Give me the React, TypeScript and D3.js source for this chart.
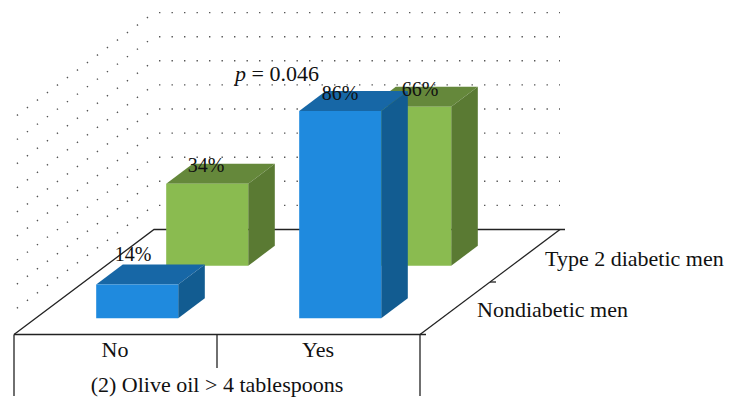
import React from "react";
import * as d3 from "d3";

const WIDTH = 738;
const HEIGHT = 411;

const categories = ["No", "Yes"];
const seriesNames = ["Nondiabetic men", "Type 2 diabetic men"];
const nondiabetic = [14, 86];
const diabetic = [34, 66];
const gridTicks = [10, 20, 30, 40, 50, 60, 70, 80, 90];

const COLORS: Record<string, { front: string; top: string; side: string }> = {
  "Nondiabetic men": { front: "#1f8ade", top: "#1767a6", side: "#125c91" },
  "Type 2 diabetic men": { front: "#8abb50", top: "#65883b", side: "#5a7a33" },
};

const FONT = "'Liberation Serif', serif";
const AXIS = "#222";

// front edge of the floor runs along x, depth goes up and to the right
const xScale = d3
  .scaleBand<string>()
  .domain(categories)
  .range([14, 420])
  .paddingInner(0.596)
  .paddingOuter(0.298);
const depthScale = d3
  .scaleBand<string>()
  .domain(seriesNames)
  .range([0, 105])
  .paddingInner(0.62)
  .paddingOuter(0.31);
const yScale = d3.scaleLinear().domain([0, 100]).range([0, 241]);

const FLOOR_Y = 334.5;
const SLANT = 140 / 105;

// x along the front, d = depth in px, v = value
const project = (x: number, d: number, v: number): [number, number] => [
  x + d * SLANT,
  FLOOR_Y - d - yScale(v),
];

const line = d3.line();
const poly = (pts: [number, number][]) => line(pts) + "Z";

const Bar = ({ cat, series, value }: { cat: string; series: string; value: number }) => {
  const x0 = xScale(cat) as number;
  const x1 = x0 + xScale.bandwidth();
  const d0 = depthScale(series) as number;
  const d1 = d0 + depthScale.bandwidth();
  const c = COLORS[series];
  return (
    <g>
      <path
        d={poly([project(x0, d0, value), project(x1, d0, value), project(x1, d1, value), project(x0, d1, value)])}
        fill={c.top}
      />
      <path
        d={poly([project(x1, d0, 0), project(x1, d1, 0), project(x1, d1, value), project(x1, d0, value)])}
        fill={c.side}
      />
      <path
        d={poly([project(x0, d0, 0), project(x1, d0, 0), project(x1, d0, value), project(x0, d0, value)])}
        fill={c.front}
      />
    </g>
  );
};

const Label = ({ x, y, children, anchor = "middle", size = 22 }: any) => (
  <text x={x} y={y} textAnchor={anchor} fontFamily={FONT} fontSize={size} fill="#111">
    {children}
  </text>
);

const App = () => {
  const [fl, fr] = [14, 420];
  const midX = (fl + fr) / 2;
  const backL = project(fl, 105, 0);
  const backR = project(fr, 105, 0);
  const midR = project(fr, 52.5, 0);

  return (
    <svg width={WIDTH} height={HEIGHT} style={{ position: "absolute", left: 0, top: 0 }}>
      {/* dotted gridlines on back and side walls */}
      {gridTicks.map((t) => {
        const a = project(fl, 0, t);
        const b = project(fl, 105, t);
        const c = project(fr, 105, t);
        return (
          <g key={t} stroke="#555" strokeWidth={1.4} strokeDasharray="1.4 11.1">
            <line x1={b[0]} y1={b[1]} x2={a[0]} y2={a[1]} strokeDashoffset={-7.5} />
            <line x1={b[0]} y1={b[1]} x2={c[0]} y2={c[1]} strokeDashoffset={-5} />
          </g>
        );
      })}

      {/* floor */}
      <g stroke={AXIS} strokeWidth={1.3} fill="none">
        <path d={line([[fl, FLOOR_Y], backL, [backR[0] + 5, backR[1]]]) as string} />
        <path d={line([[fl, FLOOR_Y], [fr + 6, FLOOR_Y]]) as string} />
        <path d={line([[fr, FLOOR_Y], backR]) as string} />
        <path d={line([midR, [midR[0] + 6, midR[1]]]) as string} />
        <path d={line([[fl, FLOOR_Y], [fl, 396]]) as string} />
        <path d={line([[fr, FLOOR_Y], [fr, 396]]) as string} />
        <path d={line([[midX, FLOOR_Y], [midX, 368]]) as string} />
      </g>

      {/* back row first so the front row covers it */}
      {categories.map((cat, i) => (
        <Bar key={cat} cat={cat} series={seriesNames[1]} value={diabetic[i]} />
      ))}
      {categories.map((cat, i) => (
        <Bar key={cat} cat={cat} series={seriesNames[0]} value={nondiabetic[i]} />
      ))}

      {/* value labels */}
      <Label x={133} y={261} size={20}>{nondiabetic[0]}%</Label>
      <Label x={206} y={172} size={20}>{diabetic[0]}%</Label>
      <Label x={340} y={100} size={20}>{nondiabetic[1]}%</Label>
      <Label x={420} y={96} size={20}>{diabetic[1]}%</Label>

      <Label x={235} y={81} anchor="start">
        <tspan fontStyle="italic">p</tspan> = 0.046
      </Label>

      {/* axis text */}
      <Label x={115} y={357}>{categories[0]}</Label>
      <Label x={318} y={357}>{categories[1]}</Label>
      <Label x={217} y={392}>(2) Olive oil &gt; 4 tablespoons</Label>
      <Label x={545} y={266} anchor="start">{seriesNames[1]}</Label>
      <Label x={477} y={317} anchor="start">{seriesNames[0]}</Label>
    </svg>
  );
};

export default App;
